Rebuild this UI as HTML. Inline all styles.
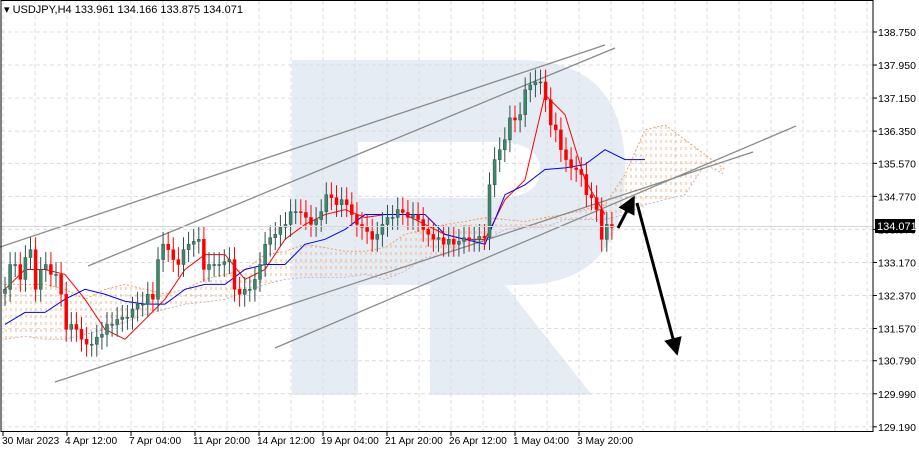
<!DOCTYPE html>
<html><head><meta charset="utf-8"><style>
html,body{margin:0;padding:0;background:#fff;width:919px;height:452px;overflow:hidden}
svg{display:block;font-family:"Liberation Sans",sans-serif}
</style></head><body>
<svg id="chart" width="919" height="452" viewBox="0 0 919 452">
<defs>
<pattern id="hatchO" width="5" height="7" patternUnits="userSpaceOnUse"><line x1="1" y1="0" x2="1" y2="3" stroke="#f3b486" stroke-width="1"/></pattern>
<marker id="ah" markerWidth="6" markerHeight="6" refX="4" refY="3" orient="auto"><path d="M0,0 L6,3 L0,6 Z" fill="#000"/></marker>
</defs>
<g id="watermark" fill="#e6ecf4">
<rect x="292" y="60" width="66" height="335"/>
<path d="M358,60 L520,60 Q625,60 625,170 Q625,285 520,285 L358,285 L358,198 L495,198 Q540,198 540,170 Q540,142 495,142 L358,142 Z"/>
<path d="M430,285 L505,285 L592,395 L430,395 Z"/>
</g>
<g id="grid"></g>
<g id="cloud"></g>
<g id="lines">
<line x1="0" y1="247" x2="605" y2="45" stroke="#8a8a8a" stroke-width="1.3"/>
<line x1="88" y1="266" x2="615" y2="48" stroke="#8a8a8a" stroke-width="1.3"/>
<line x1="55" y1="382" x2="753" y2="152" stroke="#8a8a8a" stroke-width="1.3"/>
<line x1="275" y1="348" x2="796" y2="126" stroke="#8a8a8a" stroke-width="1.3"/>
</g>
<g id="ind"></g>
<g id="candles"></g>
<line x1="0" y1="226.5" x2="873" y2="226.5" stroke="#d8d8d8" stroke-width="1"/>
<line x1="618" y1="228" x2="632" y2="201" stroke="#000" stroke-width="3" marker-end="url(#ah)"/>
<line x1="637" y1="203" x2="676" y2="350" stroke="#000" stroke-width="3" marker-end="url(#ah)"/>
<g id="axes"></g>
<rect x="1" y="0.5" width="872" height="431" fill="none" stroke="#000" stroke-width="1"/>
<text x="4" y="13" font-size="11" fill="#000">▾ USDJPY,H4  133.961 134.166 133.875 134.071</text>
<rect x="875" y="219" width="40" height="14" fill="#000"/>
<text x="877" y="230" font-size="11" fill="#fff">134.071</text>
</svg>
<script>
const closes=[132.52,133.12,133.12,132.76,133.29,133.48,132.52,133.00,133.12,132.88,132.88,132.40,131.55,131.67,131.55,131.31,131.19,131.19,131.36,131.43,131.67,131.67,131.79,131.84,131.84,132.04,132.16,132.16,132.40,132.28,133.24,133.61,133.48,133.24,133.12,133.48,133.61,133.68,133.73,133.00,133.12,133.12,133.12,133.19,133.24,132.52,132.40,132.52,132.52,132.76,133.12,133.61,133.77,133.85,134.02,134.09,134.40,134.40,134.38,134.26,134.09,134.21,134.40,134.81,134.74,134.57,134.69,134.57,134.33,134.09,134.02,133.92,133.73,133.85,134.09,134.26,134.26,134.45,134.38,134.26,134.33,134.21,133.97,133.85,133.73,133.77,133.61,133.73,133.61,133.68,133.77,133.73,133.73,133.80,133.77,135.05,135.66,135.90,136.14,136.67,136.62,136.75,137.35,137.47,137.54,137.54,137.11,136.50,136.38,135.90,135.66,135.46,135.42,135.30,134.81,134.74,134.45,133.73,134.09,134.02];
const tenkan=[132.52,133.00,133.00,132.88,132.28,131.55,131.31,131.79,132.28,133.00,133.36,133.36,132.76,133.00,133.73,134.09,134.33,134.45,134.26,134.33,134.33,134.09,133.85,133.73,133.73,134.69,135.17,137.23,136.75,135.17,134.33];
const kijun=[131.67,131.96,131.96,132.28,132.52,132.40,132.23,132.16,132.16,132.52,132.64,132.64,133.00,133.12,133.12,133.61,133.73,133.97,134.33,134.33,134.33,134.33,133.85,133.73,133.61,134.81,135.05,135.42,135.46,135.54,135.90,135.66,135.66];
const cloudTop=[132.64,132.64,132.64,132.52,132.28,132.52,132.64,132.52,132.40,132.52,132.76,132.88,133.00,133.36,133.44,133.61,133.53,133.44,133.44,133.53,133.85,133.97,134.09,134.16,134.26,134.21,134.16,134.26,134.33,134.45,134.57,135.30,136.38,136.50,136.14,135.78,135.42];
const cloudBot=[131.31,131.38,131.31,131.31,131.43,131.55,131.72,131.91,132.04,132.16,132.21,132.28,132.45,132.64,132.76,132.81,132.81,132.81,132.88,132.76,132.96,133.29,133.36,133.68,133.68,133.97,134.02,134.02,134.21,134.21,134.21,134.33,134.57,134.69,134.81,135.54,135.30];
const yTicks=["138.750","137.950","137.150","136.350","135.570","134.770","133.970","133.170","132.370","131.570","130.790","129.990","129.190"];
const xTicks=["30 Mar 2023","4 Apr 12:00","7 Apr 04:00","11 Apr 20:00","14 Apr 12:00","19 Apr 04:00","21 Apr 20:00","26 Apr 12:00","1 May 04:00","3 May 20:00"];

const NS="http://www.w3.org/2000/svg";
function yS(p){return 32+(138.75-p)*41.3;}
function xS(i){return 5+i*5.1;}
function mk(tag,attrs,parent){const e=document.createElementNS(NS,tag);for(const k in attrs)e.setAttribute(k,attrs[k]);parent.appendChild(e);return e;}

const grid=document.getElementById('grid');
for(let k=0;k<28;k++){const x=3+32*k;const l=mk('line',{x1:x,y1:1,x2:x,y2:431,stroke:'#dcdcdc','stroke-dasharray':'4,3'},grid);

}
const axes=document.getElementById('axes');
yTicks.forEach((t,i)=>{const y=yS(parseFloat(t));
const l=mk('line',{x1:1,y1:y,x2:873,y2:y,stroke:'#dcdcdc','stroke-dasharray':'4,3'},grid);


mk('line',{x1:873,y1:y,x2:877,y2:y,stroke:'#000'},axes);
const tx=mk('text',{x:878,y:y+4,'font-size':'10.5',fill:'#000'},axes);tx.textContent=t;

});
xTicks.forEach((t,i)=>{const x=3+64*i;
mk('line',{x1:x,y1:431,x2:x,y2:436,stroke:'#000'},axes);
const tx=mk('text',{x:i==0?2:x-2,y:444,'font-size':'10.2',fill:'#000'},axes);tx.textContent=t;

});

const cloud=document.getElementById('cloud');
const cx=i=>5+i*20;
let topPts=cloudTop.map((v,i)=>cx(i)+','+yS(v));
let botPts=cloudBot.map((v,i)=>cx(i)+','+yS(v)).reverse();
const poly=mk('polygon',{points:topPts.concat(botPts).join(' '),fill:'url(#hatchO)'},cloud);


const sa=mk('polyline',{points:topPts.join(' '),fill:'none',stroke:'#f0a060','stroke-dasharray':'2,2'},cloud);


const sb=mk('polyline',{points:cloudBot.map((v,i)=>cx(i)+','+yS(v)).join(' '),fill:'none',stroke:'#c8b4d0','stroke-dasharray':'2,2'},cloud);



const ind=document.getElementById('ind');
const tl=mk('polyline',{points:tenkan.map((v,i)=>cx(i)+','+yS(v)).join(' '),fill:'none',stroke:'#ff0000','stroke-width':1},ind);


const kl=mk('polyline',{points:kijun.map((v,i)=>cx(i)+','+yS(v)).join(' '),fill:'none',stroke:'#0000ff','stroke-width':1},ind);



const cg=document.getElementById('candles');
closes.forEach((c,i)=>{const o=i?closes[i-1]:c-0.1;const x=xS(i);
const up=c>=o;const hi=Math.max(o,c)+0.3,lo=Math.min(o,c)-0.3;
const w=mk('line',{x1:x,y1:yS(hi),x2:x,y2:yS(lo),stroke:up?'#2f4f4f':'#ff0000'},cg);


const top=yS(Math.max(o,c)),h=Math.max(1,yS(Math.min(o,c))-top);
const b=mk('rect',{x:x-1.5,y:top,width:3,height:h,fill:up?'#3c8a6a':'#ff0000',stroke:up?'#2f4f4f':'#ff0000','stroke-width':0.5},cg);

});
</script>
</body></html>
